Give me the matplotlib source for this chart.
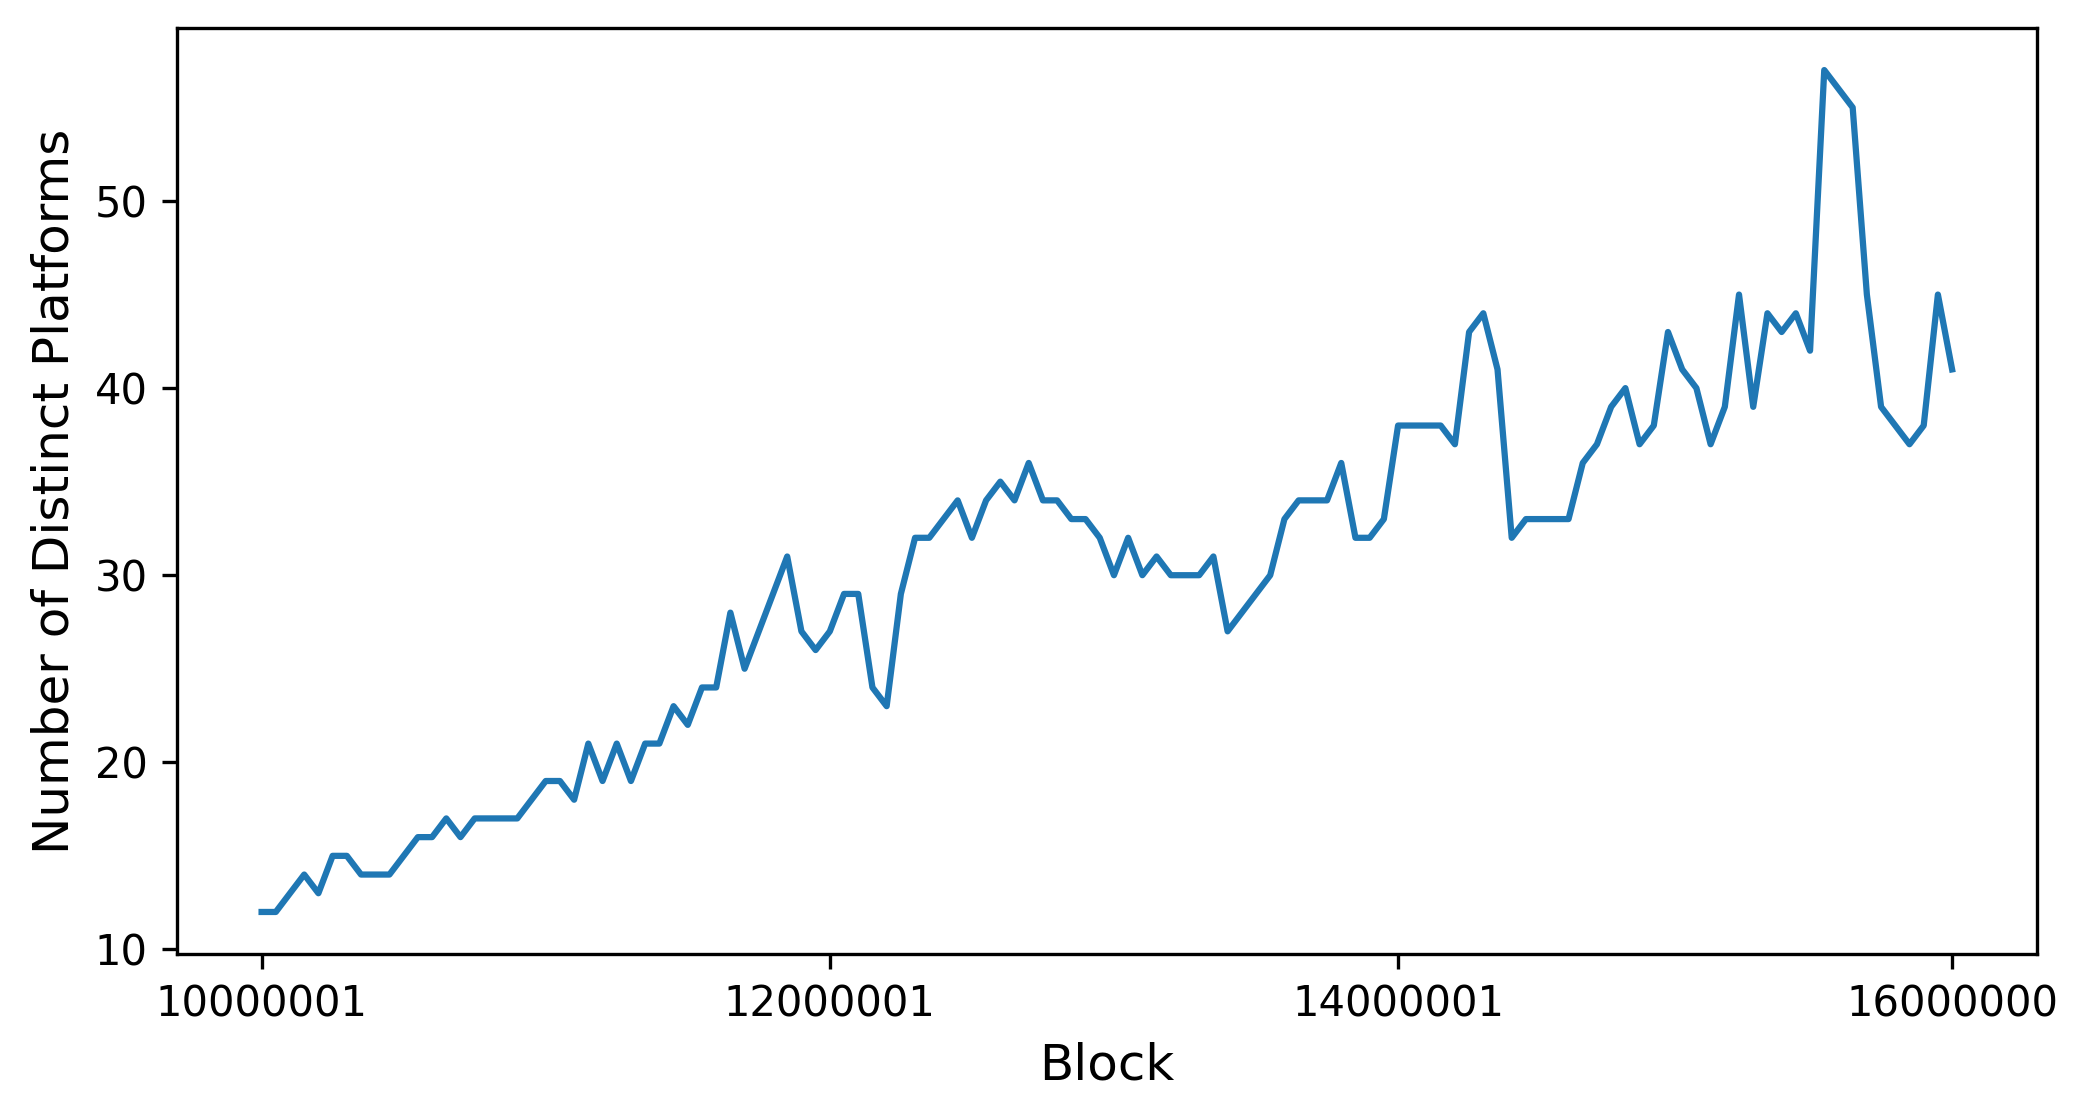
import matplotlib
matplotlib.use("Agg")
import matplotlib.pyplot as plt

# number of distinct platforms per block window (120 windows)
platforms = [
    12, 12, 13, 14, 13, 15, 15, 14, 14, 14,
    15, 16, 16, 17, 16, 17, 17, 17, 17, 18,
    19, 19, 18, 21, 19, 21, 19, 21, 21, 23,
    22, 24, 24, 28, 25, 27, 29, 31, 27, 26,
    27, 29, 29, 24, 23, 29, 32, 32, 33, 34,
    32, 34, 35, 34, 36, 34, 34, 33, 33, 32,
    30, 32, 30, 31, 30, 30, 30, 31, 27, 28,
    29, 30, 33, 34, 34, 34, 36, 32, 32, 33,
    38, 38, 38, 38, 37, 43, 44, 41, 32, 33,
    33, 33, 33, 36, 37, 39, 40, 37, 38, 43,
    41, 40, 37, 39, 45, 39, 44, 43, 44, 42,
    57, 56, 55, 45, 39, 38, 37, 38, 45, 41,
]
tick_idx = [0, 40, 80, 119]
tick_labels = ["10000001", "12000001", "14000001", "16000000"]

fig = plt.figure(figsize=(6.96, 3.73), dpi=300)
ax = fig.add_axes([0.0848, 0.1474, 0.8906, 0.8276])
ax.plot(range(len(platforms)), platforms, color="#1f77b4", linewidth=1.5)
ax.set_xticks(tick_idx)
ax.set_xticklabels(tick_labels)
ax.set_yticks([10, 20, 30, 40, 50])
ax.set_xlabel("Block", fontsize=12)
ax.set_ylabel("Number of Distinct Platforms", fontsize=12)

fig.savefig("out.png", dpi=300)
